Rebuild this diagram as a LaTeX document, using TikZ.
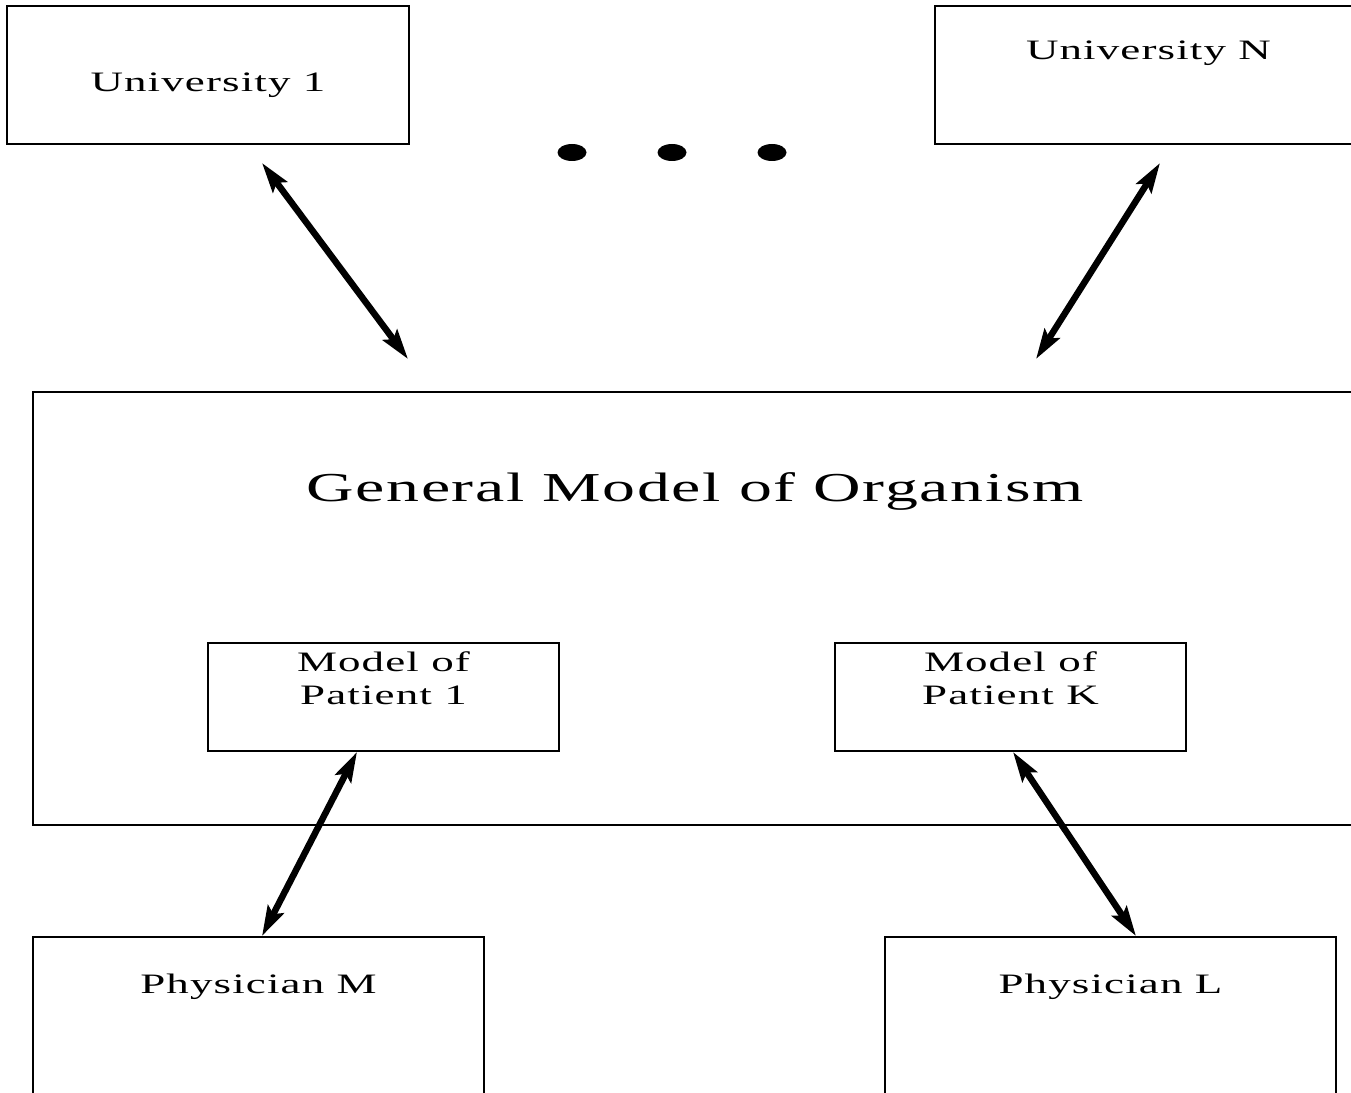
\documentclass[tikz,border=0pt]{standalone}
\usepackage{fontspec}
\setmainfont{Liberation Serif}[FakeStretch=1.6,LetterSpace=4]
\usepackage{tikz}
\usetikzlibrary{arrows.meta,positioning}
\tikzset{
    box/.style={rectangle, draw, line width=1.1pt, align=center,
                font=\fontsize{16}{19}\selectfont},
    orgbox/.style={rectangle, draw, line width=1.1pt,
                   minimum width=26.48cm, minimum height=8.66cm},
    ttl/.style={font=\fontsize{23.4}{26}\selectfont},
    dbl/.style={{Stealth[length=17pt,width=10pt,inset=3pt]}-{Stealth[length=17pt,width=10pt,inset=3pt]},
                line width=3.7pt},
}
\begin{document}
\begin{tikzpicture}
    \useasboundingbox (0,0) rectangle (27.02,21.84);
    \clip (0,0) rectangle (27.02,21.84);

    \node[box, minimum width=8.04cm, minimum height=2.76cm, text height=0.8cm] (uni1) at (4.16,20.34) {University 1};
    \node[box, minimum width=8.54cm, minimum height=2.76cm, text depth=1.0cm] (uniN) at (22.97,20.34) {University N};
    \foreach \x in {11.44,13.44,15.44}
        \fill (\x,18.79) ellipse (0.29cm and 0.17cm);

    \node[orgbox] (org) at (13.9,9.67) {};
    \node[ttl, below=1.5cm of org.north] (title) {General Model of Organism};
    \node[box, minimum width=7.02cm, minimum height=2.16cm, text depth=0.75cm] (pat1) at (7.67,7.9) {Model of\\Patient 1};
    \node[box, minimum width=7.02cm, minimum height=2.16cm, text depth=0.75cm] (patK) at (20.21,7.9) {Model of\\Patient K};

    \node[box, minimum width=9.02cm, minimum height=3.26cm, text depth=1.4cm] (physM) at (5.17,1.47) {Physician M};
    \node[box, minimum width=9.02cm, minimum height=3.26cm, text depth=1.4cm] (physL) at (22.21,1.47) {Physician L};

    \draw[dbl] ([xshift=1.08cm,yshift=-0.36cm]uni1.south) -- ([xshift=-5.74cm,yshift=0.64cm]org.north);
    \draw[dbl] ([xshift=0.23cm,yshift=-0.36cm]uniN.south) -- ([xshift=6.82cm,yshift=0.64cm]org.north);
    \draw[dbl] ([xshift=-0.53cm]pat1.south) -- ([xshift=0.07cm]physM.north);
    \draw[dbl] ([xshift=0.05cm]patK.south) -- ([xshift=0.51cm]physL.north);
\end{tikzpicture}
\end{document}
